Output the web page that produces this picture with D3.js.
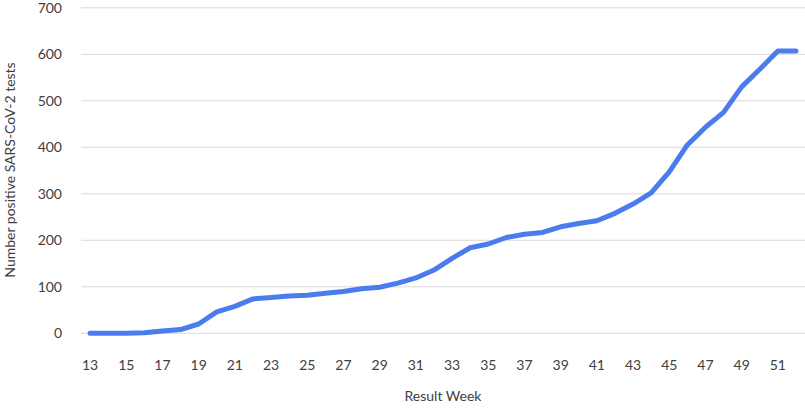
<!DOCTYPE html>
<html><head><meta charset="utf-8">
<script src="https://cdn.jsdelivr.net/npm/d3@7"></script>
<style>body{margin:0;background:#fff}svg text{font-family:Lato,"Open Sans",sans-serif;fill:#404040}</style>
</head><body><svg id="c" width="805" height="410"></svg>
<script>
const weeks = d3.range(13, 53);
const positives = [0,0,0,1,5,8,20,46,58,74,77,80,82,86,90,96,99,108,119,136,161,184,192,206,213,217,229,236,242,258,278,302,347,405,443,475,530,568,607,607];
const yTicks = [0,100,200,300,400,500,600,700];
const xTickLabels = weeks.filter(w => w % 2 === 1);

const svg = d3.select("#c");
const x = d3.scaleBand().domain(weeks).range([81, 805]);
const y = d3.scaleLinear().domain([0, 700]).range([333.3, 7.8]);

svg.append("g").selectAll("line").data(yTicks).join("line")
  .attr("x1", 81).attr("x2", 805)
  .attr("y1", d => y(d)).attr("y2", d => y(d))
  .attr("stroke", "#d9d9d9").attr("stroke-width", 1);

svg.append("g").selectAll("text").data(yTicks).join("text")
  .attr("x", 62).attr("y", d => y(d)).attr("dy", "0.35em")
  .attr("text-anchor", "end").attr("font-size", 14).text(d => d);

svg.append("g").selectAll("text").data(xTickLabels).join("text")
  .attr("x", d => x(d) + x.bandwidth() / 2).attr("y", 370)
  .attr("text-anchor", "middle").attr("font-size", 14).text(d => d);

const line = d3.line().x((d, i) => x(weeks[i]) + x.bandwidth() / 2).y(d => y(d));
svg.append("path").datum(positives).attr("d", line)
  .attr("fill", "none").attr("stroke", "#4a7cef").attr("stroke-width", 5)
  .attr("stroke-linejoin", "round").attr("stroke-linecap", "round");

svg.append("text").attr("x", 443).attr("y", 401).attr("text-anchor", "middle")
  .attr("font-size", 14).text("Result Week");
svg.append("text").attr("transform", "translate(15,170) rotate(-90)")
  .attr("text-anchor", "middle").attr("font-size", 14).text("Number positive SARS-CoV-2 tests");
</script></body></html>
